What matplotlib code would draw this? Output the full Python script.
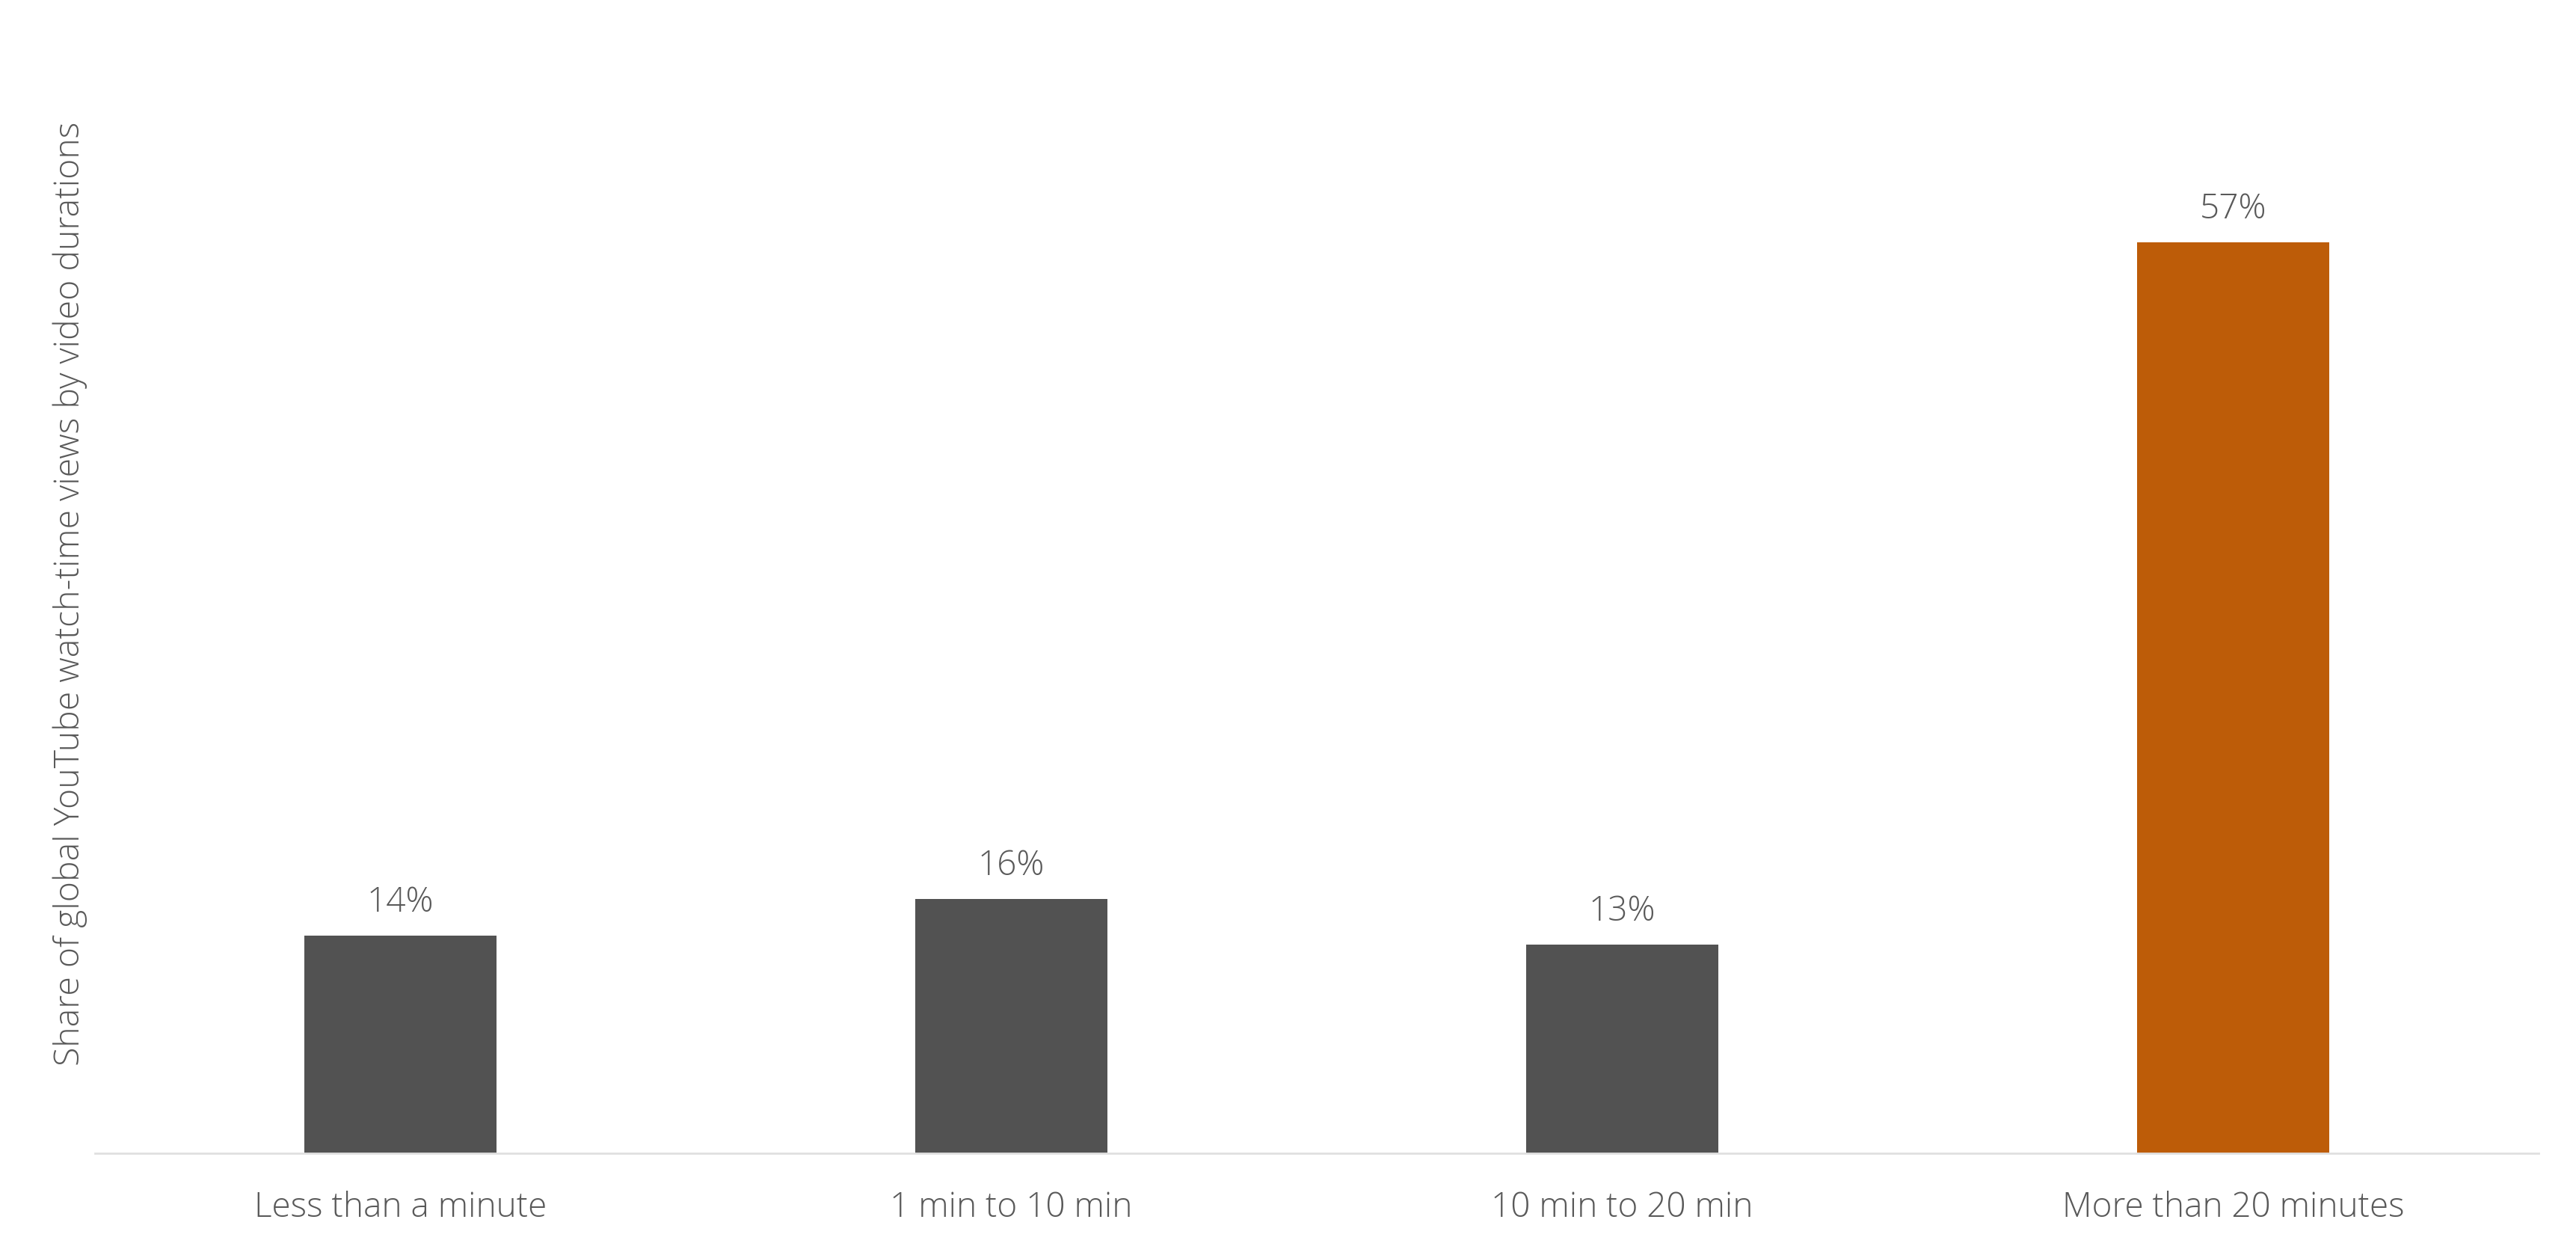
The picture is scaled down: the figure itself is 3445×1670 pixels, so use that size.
import matplotlib
matplotlib.use("Agg")
import matplotlib.pyplot as plt

categories = ["Less than a minute", "1 min to 10 min", "10 min to 20 min", "More than 20 minutes"]
values = [13.6, 15.9, 13.05, 57]
value_labels = ["14%", "16%", "13%", "57%"]
colors = ["#525252", "#525252", "#525252", "#BD5C08"]
ylabel = "Share of global YouTube watch-time views by video durations"

plt.rcParams['font.family'] = ['Open Sans', 'DejaVu Sans']
text_color = "#595959"

fig = plt.figure(figsize=(17.225, 8.35), dpi=200)
ax = fig.add_axes([0.0369, 0.0766, 0.9486, 0.896])

x = list(range(len(categories)))
bars = ax.bar(x, values, width=0.315, color=colors, zorder=2)
ax.set_xlim(-0.5, len(categories) - 0.5)
ax.set_ylim(0, 70)

for xi, v, lab in zip(x, values, value_labels):
    ax.annotate(lab, (xi, v), xytext=(0, 7.6), textcoords="offset points",
                ha="center", va="bottom", fontsize=16.5, color=text_color,
                fontweight="light")

ax.set_xticks(x)
ax.set_xticklabels(categories, fontsize=16.5, color=text_color, fontweight="light")
ax.tick_params(axis="x", length=0, pad=18)
ax.set_yticks([])
for s in ["top", "right", "left"]:
    ax.spines[s].set_visible(False)
ax.spines["bottom"].set_color("#e0e0e0")
ax.spines["bottom"].set_linewidth(1.0)

ax.set_ylabel(ylabel, fontsize=16.7, color=text_color, fontweight="light", labelpad=10)
ax.yaxis.set_label_coords(-0.0032, 0.5)

fig.savefig("out.png", dpi=200, facecolor="white")
